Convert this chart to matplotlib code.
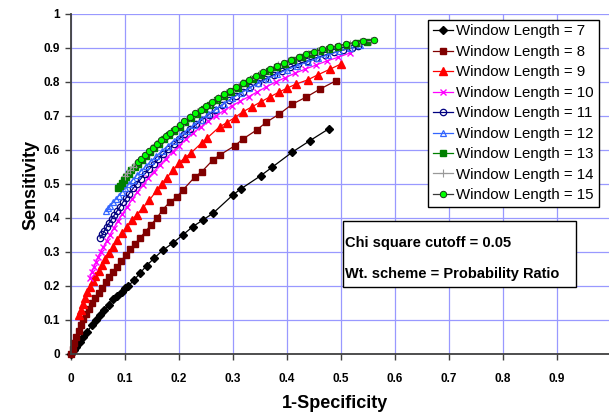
import matplotlib
matplotlib.use("Agg")
import matplotlib.pyplot as plt
from matplotlib.patches import Rectangle

plt.rcParams['font.family'] = ['Liberation Sans', 'DejaVu Sans']

# ---------------- data ----------------
x7 = [0, 0.005, 0.01, 0.016, 0.023, 0.03, 0.039, 0.047, 0.054, 0.062, 0.07, 0.078, 0.086, 0.094, 0.1,
      0.106, 0.117, 0.128, 0.14, 0.154, 0.17, 0.189, 0.207, 0.225, 0.245, 0.263, 0.3, 0.314, 0.351, 0.373,
      0.41, 0.442, 0.477]
y7 = [0, 0.012, 0.022, 0.035, 0.05, 0.065, 0.085, 0.1, 0.115, 0.13, 0.145, 0.162, 0.172, 0.183, 0.193,
      0.2, 0.218, 0.238, 0.26, 0.282, 0.305, 0.327, 0.35, 0.374, 0.395, 0.414, 0.468, 0.485, 0.524, 0.55,
      0.594, 0.627, 0.662]

x8 = [0, 0.003, 0.006, 0.01, 0.014, 0.018, 0.023, 0.028, 0.033, 0.039, 0.045, 0.051, 0.057, 0.064, 0.071,
      0.078, 0.085, 0.093, 0.101, 0.11, 0.119, 0.128, 0.138, 0.148, 0.159, 0.17, 0.183, 0.196, 0.207, 0.229,
      0.242, 0.263, 0.275, 0.303, 0.318, 0.344, 0.362, 0.386, 0.41, 0.436, 0.462, 0.49]
y8 = [0, 0.016, 0.032, 0.05, 0.068, 0.085, 0.102, 0.118, 0.133, 0.15, 0.165, 0.18, 0.195, 0.211, 0.227,
      0.242, 0.257, 0.274, 0.29, 0.308, 0.325, 0.342, 0.36, 0.38, 0.4, 0.425, 0.447, 0.462, 0.482, 0.52,
      0.536, 0.571, 0.585, 0.612, 0.632, 0.659, 0.682, 0.706, 0.735, 0.756, 0.78, 0.803]

x9 = [0.015, 0.018, 0.022, 0.026, 0.03, 0.035, 0.04, 0.045, 0.051, 0.057, 0.063, 0.07, 0.078, 0.086, 0.095,
      0.104, 0.113, 0.122, 0.133, 0.145, 0.159, 0.168, 0.177, 0.189, 0.2, 0.211, 0.222, 0.242, 0.252, 0.275,
      0.288, 0.303, 0.318, 0.335, 0.352, 0.368, 0.385, 0.4, 0.417, 0.438, 0.457, 0.48, 0.5]
y9 = [0.115, 0.13, 0.148, 0.165, 0.182, 0.198, 0.214, 0.229, 0.245, 0.262, 0.278, 0.296, 0.315, 0.335, 0.355,
      0.375, 0.394, 0.41, 0.43, 0.452, 0.482, 0.5, 0.518, 0.54, 0.562, 0.577, 0.591, 0.621, 0.635, 0.668,
      0.68, 0.695, 0.712, 0.727, 0.742, 0.756, 0.77, 0.782, 0.794, 0.806, 0.821, 0.838, 0.853]

x10 = [0.035, 0.038, 0.042, 0.046, 0.05, 0.055, 0.06, 0.066, 0.072, 0.079, 0.087, 0.095, 0.104, 0.113, 0.123,
       0.133, 0.143, 0.153, 0.164, 0.176, 0.188, 0.2, 0.213, 0.226, 0.24, 0.254, 0.268, 0.283, 0.298, 0.313,
       0.329, 0.345, 0.362, 0.379, 0.397, 0.415, 0.434, 0.454, 0.474, 0.495, 0.516]
y10 = [0.225, 0.24, 0.255, 0.27, 0.285, 0.3, 0.315, 0.333, 0.35, 0.37, 0.392, 0.412, 0.432, 0.455, 0.477,
       0.497, 0.517, 0.536, 0.555, 0.575, 0.595, 0.612, 0.632, 0.65, 0.667, 0.684, 0.7, 0.716, 0.73, 0.743,
       0.757, 0.771, 0.786, 0.8, 0.813, 0.826, 0.838, 0.85, 0.862, 0.873, 0.885]

x11 = [0.054, 0.058, 0.062, 0.066, 0.07, 0.075, 0.08, 0.085, 0.09, 0.096, 0.102, 0.108, 0.115, 0.122, 0.129,
       0.137, 0.145, 0.153, 0.162, 0.171, 0.18, 0.19, 0.2, 0.21, 0.221, 0.232, 0.243, 0.255, 0.267, 0.279,
       0.292, 0.305, 0.318, 0.332, 0.346, 0.36, 0.375, 0.39, 0.405, 0.421, 0.437, 0.453, 0.47, 0.487, 0.504,
       0.52, 0.532]
y11 = [0.341, 0.352, 0.363, 0.374, 0.384, 0.396, 0.408, 0.42, 0.432, 0.446, 0.459, 0.472, 0.487, 0.501, 0.515,
       0.53, 0.544, 0.558, 0.573, 0.588, 0.602, 0.617, 0.632, 0.646, 0.661, 0.675, 0.689, 0.704, 0.718, 0.732,
       0.746, 0.76, 0.772, 0.785, 0.797, 0.809, 0.821, 0.832, 0.843, 0.853, 0.862, 0.871, 0.879, 0.887, 0.894,
       0.9, 0.905]

x12 = [0.065, 0.069, 0.073, 0.078, 0.083, 0.088, 0.094, 0.1, 0.107, 0.114, 0.122, 0.13, 0.139, 0.148, 0.158,
       0.168, 0.179, 0.19, 0.202, 0.214, 0.227, 0.24, 0.254, 0.268, 0.283, 0.298, 0.314, 0.33, 0.347, 0.364,
       0.382, 0.4, 0.419, 0.438, 0.457, 0.476, 0.496, 0.516, 0.535]
y12 = [0.42, 0.428, 0.436, 0.446, 0.456, 0.465, 0.476, 0.487, 0.5, 0.512, 0.526, 0.539, 0.553, 0.567, 0.582,
       0.597, 0.612, 0.627, 0.642, 0.657, 0.673, 0.689, 0.705, 0.72, 0.736, 0.752, 0.767, 0.782, 0.796, 0.81,
       0.823, 0.836, 0.848, 0.859, 0.87, 0.88, 0.89, 0.9, 0.908]

x13 = [0.087, 0.09, 0.094, 0.098, 0.102, 0.107, 0.112, 0.118, 0.124, 0.131, 0.138, 0.146, 0.154, 0.163, 0.172,
       0.181, 0.191, 0.201, 0.212, 0.223, 0.234, 0.246, 0.258, 0.27, 0.283, 0.296, 0.309, 0.323, 0.337, 0.351,
       0.366, 0.381, 0.396, 0.412, 0.428, 0.444, 0.461, 0.478, 0.495, 0.512, 0.53, 0.548]
y13 = [0.488, 0.495, 0.503, 0.512, 0.52, 0.53, 0.54, 0.551, 0.56, 0.571, 0.582, 0.594, 0.606, 0.619, 0.631,
       0.643, 0.656, 0.668, 0.681, 0.694, 0.707, 0.72, 0.733, 0.746, 0.759, 0.771, 0.783, 0.796, 0.808, 0.82,
       0.833, 0.844, 0.854, 0.864, 0.873, 0.882, 0.89, 0.897, 0.903, 0.909, 0.914, 0.918]

x14 = [0.1, 0.104, 0.109, 0.114, 0.12, 0.126, 0.133, 0.141, 0.149, 0.158, 0.167, 0.177, 0.187, 0.198, 0.209,
       0.221, 0.233, 0.246, 0.259, 0.273, 0.287, 0.302, 0.317, 0.333, 0.349, 0.366, 0.383, 0.401, 0.419, 0.438,
       0.457, 0.476, 0.496, 0.516, 0.536, 0.555]
y14 = [0.525, 0.532, 0.541, 0.55, 0.559, 0.569, 0.58, 0.592, 0.604, 0.617, 0.629, 0.643, 0.656, 0.669, 0.683,
       0.697, 0.711, 0.725, 0.739, 0.754, 0.767, 0.782, 0.796, 0.81, 0.823, 0.836, 0.849, 0.861, 0.872, 0.882,
       0.892, 0.9, 0.907, 0.913, 0.918, 0.922]

x15 = [0.124, 0.13, 0.137, 0.144, 0.151, 0.159, 0.167, 0.175, 0.183, 0.192, 0.201, 0.21, 0.22, 0.23, 0.24,
       0.25, 0.261, 0.272, 0.283, 0.294, 0.306, 0.318, 0.33, 0.342, 0.355, 0.368, 0.381, 0.394, 0.408, 0.422,
       0.436, 0.45, 0.465, 0.48, 0.495, 0.51, 0.525, 0.54, 0.562]
y15 = [0.566, 0.575, 0.586, 0.596, 0.607, 0.618, 0.629, 0.64, 0.651, 0.662, 0.673, 0.684, 0.696, 0.708, 0.719,
       0.73, 0.742, 0.753, 0.764, 0.775, 0.786, 0.797, 0.807, 0.817, 0.828, 0.838, 0.848, 0.857, 0.866, 0.874,
       0.882, 0.889, 0.896, 0.902, 0.907, 0.912, 0.916, 0.92, 0.924]

labels = ["Window Length = %d" % w for w in range(7, 16)]
x_ticks = [0, 0.1, 0.2, 0.3, 0.4, 0.5, 0.6, 0.7, 0.8, 0.9]
x_tick_labels = ["0", "0.1", "0.2", "0.3", "0.4", "0.5", "0.6", "0.7", "0.8", "0.9"]
y_ticks = [0, 0.1, 0.2, 0.3, 0.4, 0.5, 0.6, 0.7, 0.8, 0.9, 1]
y_tick_labels = ["0", "0.1", "0.2", "0.3", "0.4", "0.5", "0.6", "0.7", "0.8", "0.9", "1"]

# ---------------- figure ----------------
W, H = 609, 418
fig = plt.figure(figsize=(W / 100, H / 100), dpi=100)
ax = fig.add_axes([71 / W, 64 / H, 540 / W, 340 / H])
ax.set_xlim(0, 1)
ax.set_ylim(0, 1)

styles = [
    dict(color='black', marker='D', ms=4.0, mfc='black', mec='black'),
    dict(color='#800000', marker='s', ms=4.8, mfc='#800000', mec='#800000'),
    dict(color='#FF0000', marker='^', ms=5.6, mfc='#FF0000', mec='#FF0000'),
    dict(color='#FF00FF', marker='x', ms=4.6, mfc='#FF00FF', mec='#FF00FF', mew=1.0),
    dict(color='#000080', marker='o', ms=4.6, mfc='none', mec='#000080', mew=0.9),
    dict(color='#3366FF', marker='^', ms=4.8, mfc='none', mec='#3366FF', mew=0.9),
    dict(color='#008000', marker='s', ms=4.8, mfc='#008000', mec='#008000'),
    dict(color='#999999', marker='+', ms=5.4, mfc='#999999', mec='#999999', mew=0.8),
    dict(color='#3A3A3A', marker='o', ms=4.6, mfc='#00FF00', mec='#1A3A1A', mew=0.7),
]
series = [(x7, y7), (x8, y8), (x9, y9), (x10, y10), (x11, y11), (x12, y12), (x13, y13), (x14, y14), (x15, y15)]
for (xs, ys), st, lab in zip(series, styles, labels):
    ax.plot(xs, ys, lw=0.9, label=lab, clip_on=False, zorder=3, **st)

# grid and axes styling
ax.set_xticks(x_ticks + [1.0])
ax.set_xticklabels(x_tick_labels + [""])
ax.set_yticks(y_ticks)
ax.set_yticklabels(y_tick_labels)
ax.grid(True, color='#9999FF', lw=0.9, zorder=0)
ax.set_axisbelow(True)
for s in ['top', 'right']:
    ax.spines[s].set_visible(False)
for s in ['left', 'bottom']:
    ax.spines[s].set_color('#404040')
    ax.spines[s].set_linewidth(1.3)
    ax.spines[s].set_zorder(4)
ax.tick_params(axis='both', direction='out', length=4, width=1, color='#404040', labelsize=8.5)
ax.tick_params(axis='x', pad=10)
ax.tick_params(axis='y', pad=4)
for t in ax.get_xticklabels() + ax.get_yticklabels():
    t.set_fontweight('bold')

fig.text(335 / W, 1 - 403 / H, "1-Specificity", ha='center', va='center', fontsize=13, fontweight='bold')
fig.text(31 / W, 1 - 185 / H, "Sensitivity", ha='center', va='center', rotation=90, fontsize=13, fontweight='bold')

leg = ax.legend(loc='upper left', bbox_to_anchor=(428 / W, 1 - 20 / H), bbox_transform=fig.transFigure,
                fontsize=10.8, frameon=True, fancybox=False, framealpha=1, edgecolor='black',
                handlelength=1.35, handletextpad=0.25, labelspacing=0.43, borderpad=0.3, borderaxespad=0)
leg.get_frame().set_linewidth(1.0)
leg.set_zorder(10)

# annotation box
fig.patches.append(Rectangle((343 / W, 1 - 287 / H), (576 - 343) / W, (287 - 221) / H,
                             transform=fig.transFigure, facecolor='white', edgecolor='black', lw=1.0, zorder=9))
fig.text(345 / W, 1 - 243 / H, "Chi square cutoff = 0.05", ha='left', va='center', fontsize=10.5,
         fontweight='bold', zorder=11)
fig.text(345 / W, 1 - 274 / H, "Wt. scheme = Probability Ratio", ha='left', va='center', fontsize=10.5,
         fontweight='bold', zorder=11)

fig.savefig('out.png', dpi=100)
